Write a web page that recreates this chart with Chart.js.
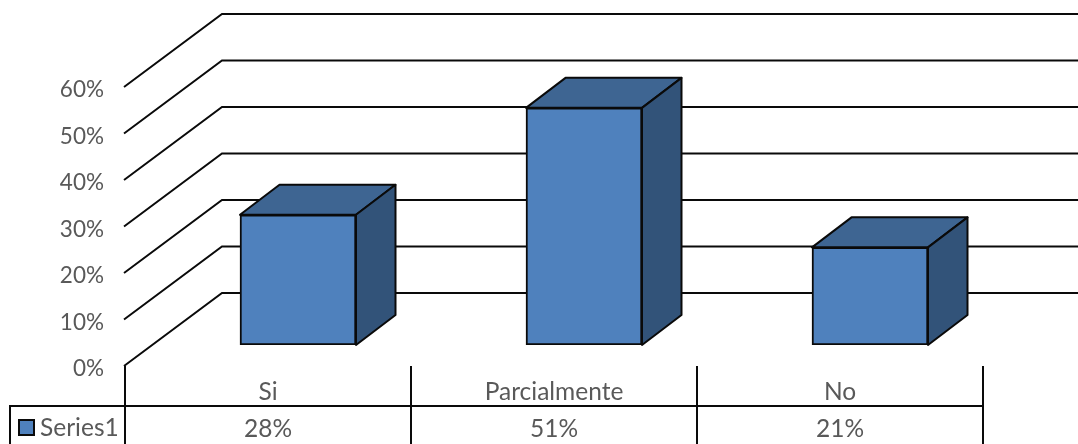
<!DOCTYPE html>
<html>
<head>
<meta charset="utf-8">
<script src="https://cdn.jsdelivr.net/npm/chart.js@4"></script>
<style>
  html, body { margin: 0; background: #fff; }
  canvas { display: block; }
</style>
</head>
<body>
<canvas id="chartone" width="1078" height="444"></canvas>
<script>
const categories = ['Si', 'Parcialmente', 'No'];
const seriesName = 'Series1';
const seriesValues = [28, 51, 21];
const yTicks = [0, 10, 20, 30, 40, 50, 60];

const textColor = '#595959';
const lineColor = '#0a0a0a';
const fontFamily = 'Lato, "Open Sans", sans-serif';
const fontSize = 24.5;
const yFontSize = 22.5;

// the fake 3d: wall depth, where the bars sit in it, and how deep they are
const wall = { dx: 98, dy: -73 };
const barOffset = { dx: 30, dy: -21 };
const barDepth = { dx: 39.5, dy: -30 };

function poly(ctx, pts, fill) {
  ctx.beginPath();
  pts.forEach((p, i) => (i ? ctx.lineTo(p[0], p[1]) : ctx.moveTo(p[0], p[1])));
  ctx.closePath();
  ctx.fillStyle = fill;
  ctx.fill();
  ctx.stroke();
}

const walls3d = {
  id: 'walls3d',
  beforeDatasetsDraw(chart) {
    const { ctx, scales: { y }, chartArea } = chart;
    ctx.save();
    ctx.strokeStyle = lineColor;
    ctx.lineWidth = 2;
    yTicks.forEach((v) => {
      const py = y.getPixelForValue(v);
      ctx.beginPath();
      ctx.moveTo(chartArea.left - 1, py);
      ctx.lineTo(chartArea.left + wall.dx - 1, py + wall.dy);
      ctx.lineTo(chart.width, py + wall.dy);
      ctx.stroke();
    });
    ctx.restore();
  },
  // shift the library's bars back into the middle of the floor
  beforeDatasetDraw(chart) {
    chart.ctx.save();
    chart.ctx.translate(barOffset.dx, barOffset.dy);
  },
  afterDatasetDraw(chart) {
    chart.ctx.restore();
  },
  afterDatasetsDraw(chart) {
    const ctx = chart.ctx;
    ctx.save();
    ctx.strokeStyle = lineColor;
    ctx.lineWidth = 2;
    ctx.lineJoin = 'round';
    chart.getDatasetMeta(0).data.forEach((bar) => {
      const l = bar.x - bar.width / 2 + barOffset.dx;
      const r = bar.x + bar.width / 2 + barOffset.dx;
      const t = bar.y + barOffset.dy;
      const b = bar.base + barOffset.dy;
      poly(ctx, [[l, t], [r, t], [r + barDepth.dx, t + barDepth.dy], [l + barDepth.dx, t + barDepth.dy]], '#3e6592');
      poly(ctx, [[r, t], [r + barDepth.dx, t + barDepth.dy], [r + barDepth.dx, b + barDepth.dy], [r, b]], '#325379');
    });
    ctx.restore();
  },
};

const dataTable = {
  id: 'dataTable',
  afterDraw(chart) {
    const { ctx, chartArea } = chart;
    const rowY = 406;
    const keyX = 10;
    ctx.save();
    ctx.strokeStyle = lineColor;
    ctx.lineWidth = 2;
    ctx.beginPath();
    ctx.moveTo(keyX, chart.height);
    ctx.lineTo(keyX, rowY);
    ctx.lineTo(chartArea.right, rowY);
    ctx.stroke();

    ctx.fillStyle = '#4f81bd';
    ctx.fillRect(19, 420, 15, 15);
    ctx.strokeRect(19, 420, 15, 15);

    ctx.fillStyle = textColor;
    ctx.font = fontSize + 'px ' + fontFamily;
    ctx.textBaseline = 'middle';
    ctx.textAlign = 'left';
    ctx.fillText(chart.data.datasets[0].label, 40, 428);
    ctx.restore();
  },
};

new Chart(document.getElementById('chartone'), {
  type: 'bar',
  data: {
    labels: categories,
    datasets: [{
      label: seriesName,
      data: seriesValues,
      backgroundColor: '#4f81bd',
      borderColor: lineColor,
      borderWidth: 2,
      borderSkipped: false,
      barThickness: 116,
    }],
  },
  options: {
    responsive: false,
    animation: false,
    devicePixelRatio: 1,
    layout: { padding: { top: 87, right: 95 } },
    plugins: { legend: { display: false }, tooltip: { enabled: false }, title: { display: false } },
    scales: {
      x: {
        afterFit: (s) => { s.height = 78; },
        border: { display: false },
        grid: { offset: true, drawOnChartArea: false, tickLength: 78, color: lineColor, lineWidth: 2 },
        ticks: {
          color: textColor,
          font: { family: fontFamily, size: fontSize, lineHeight: 37 / fontSize },
          maxRotation: 0,
          padding: -70,
          callback(value, i) {
            return [categories[i], seriesValues[i] + '%'];
          },
        },
      },
      y: {
        min: 0,
        max: 60,
        afterFit: (s) => { s.width = 125; },
        afterBuildTicks: (s) => { s.ticks = yTicks.map((value) => ({ value })); },
        border: { display: false },
        grid: { display: false },
        ticks: {
          color: textColor,
          font: { family: fontFamily, size: yFontSize },
          padding: 13,
          labelOffset: 3,
          callback: (v) => v + '%',
        },
      },
    },
  },
  plugins: [walls3d, dataTable],
});
</script>
</body>
</html>
